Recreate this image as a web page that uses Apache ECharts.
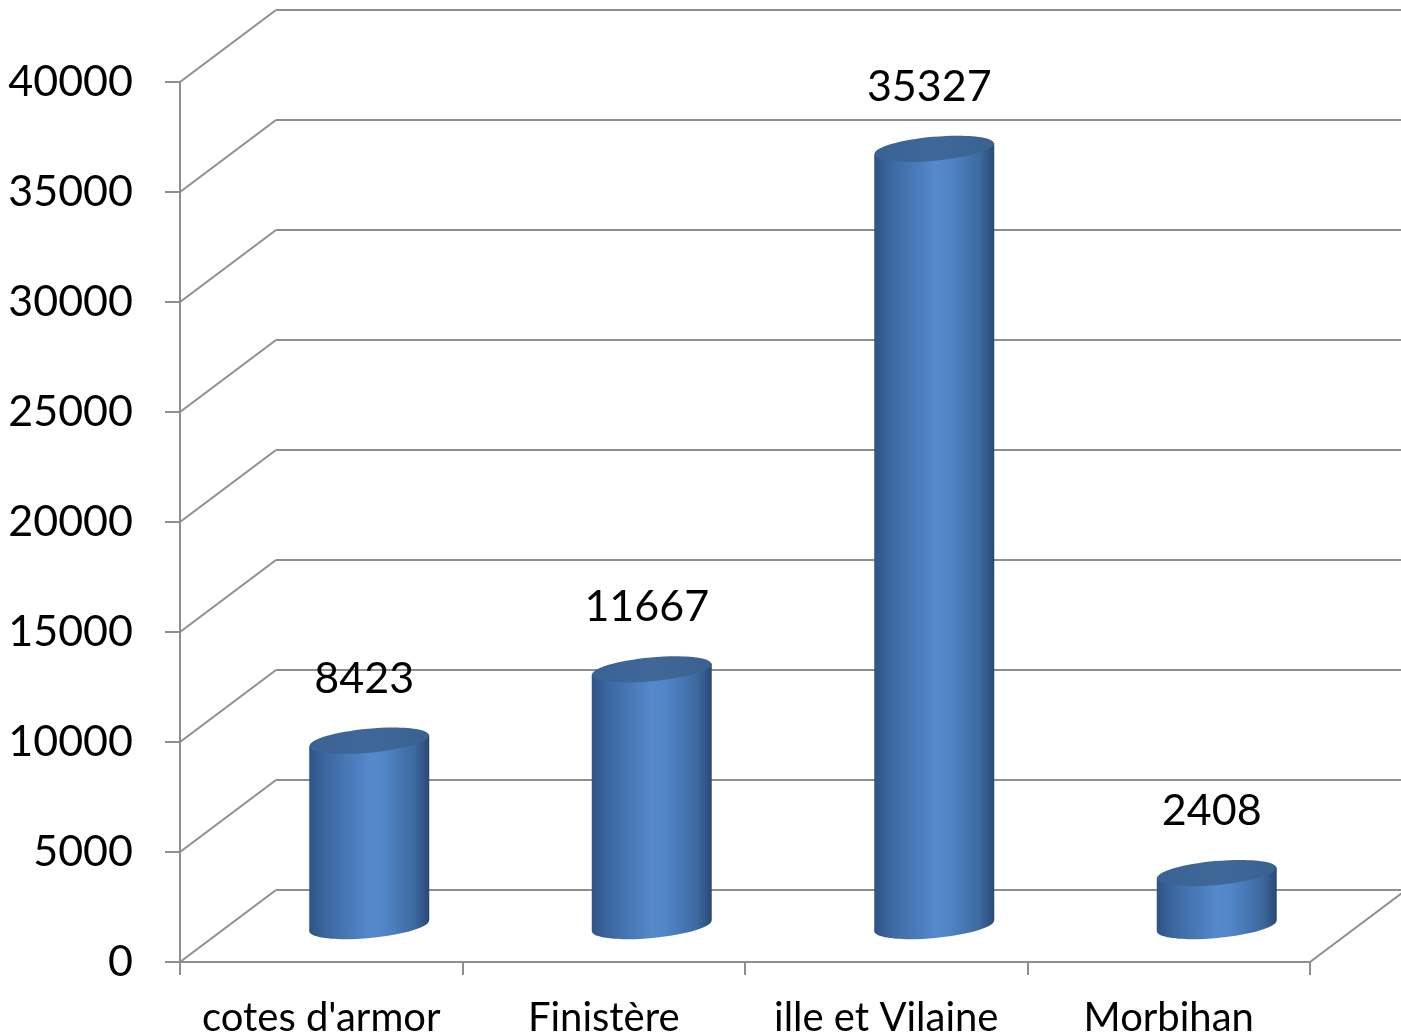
<!DOCTYPE html>
<html>
<head>
<meta charset="utf-8">
<script src="https://cdn.jsdelivr.net/npm/echarts@6/dist/echarts.min.js"></script>
<style>
  html, body { margin: 0; padding: 0; background: #fff; }
  #main { width: 1401px; height: 1034px; }
</style>
</head>
<body>
<div id="main"></div>
<script>
var categories = ['cotes d\'armor', 'Finistère', 'ille et Vilaine', 'Morbihan'];
var values = [8423, 11667, 35327, 2408];
var yTicks = [0, 5000, 10000, 15000, 20000, 25000, 30000, 35000, 40000];

var myChart = echarts.init(document.getElementById('main'));

// depth of the fake 3d box (back wall offset)
var DX = 96, DY = -72;
var lineColor = '#8e8e8e';
var fontName = 'Lato, "Open Sans", sans-serif';

var bodyFill = new echarts.graphic.LinearGradient(0, 0, 1, 0, [
    { offset: 0, color: '#2e5386' },
    { offset: 0.15, color: '#3d69a2' },
    { offset: 0.5, color: '#5489cb' },
    { offset: 0.62, color: '#5086c6' },
    { offset: 0.88, color: '#3c69a0' },
    { offset: 1, color: '#2a4874' }
]);
var topFill = new echarts.graphic.LinearGradient(0, 0, 1, 0, [
    { offset: 0, color: '#3a6295' },
    { offset: 0.5, color: '#3f6899' },
    { offset: 1, color: '#3a6190' }
]);

// diagonal lines of the side wall + floor
function renderWalls(params, api) {
    var cs = params.coordSys;
    var v = api.value(1);
    var y = api.coord([0, v])[1];
    var style = { stroke: lineColor, lineWidth: 2 };
    var children = [{
        type: 'line',
        shape: { x1: cs.x, y1: y, x2: cs.x + DX, y2: y + DY },
        style: style
    }];
    if (v === 0) {
        children.push({
            type: 'line',
            shape: { x1: cs.x + cs.width, y1: y, x2: cs.x + cs.width + DX, y2: y + DY },
            style: style
        });
    }
    return { type: 'group', children: children };
}

function renderCylinder(params, api) {
    var idx = api.value(0), val = api.value(1);
    var base = api.coord([idx, 0]);
    var top = api.coord([idx, val]);
    var cx = base[0] + DX / 2;
    var by = base[1] + DY / 2;
    var ty = top[1] + DY / 2;
    var rx = 60, ry = 12, tilt = 5.5;
    var rot = Math.atan2(tilt, rx);
    return {
        type: 'group',
        children: [
            {
                type: 'ellipse',
                shape: { cx: cx, cy: by, rx: rx, ry: ry },
                rotation: rot, originX: cx, originY: by,
                style: { fill: bodyFill }
            },
            {
                type: 'polygon',
                shape: { points: [[cx - rx, ty + tilt], [cx + rx, ty - tilt], [cx + rx, by - tilt], [cx - rx, by + tilt]] },
                style: { fill: bodyFill }
            },
            {
                type: 'ellipse',
                shape: { cx: cx, cy: ty, rx: rx, ry: ry },
                rotation: rot, originX: cx, originY: ty,
                style: { fill: topFill }
            },
            {
                type: 'text',
                x: cx - 5,
                y: ty - 62,
                style: {
                    text: String(val),
                    fill: '#000',
                    font: '43px ' + fontName,
                    align: 'center',
                    verticalAlign: 'middle'
                }
            }
        ]
    };
}

var option = {
    animation: false,
    backgroundColor: '#fff',
    grid: [
        { left: 180, top: 82, width: 1130, height: 880, outerBoundsMode: 'none' },
        { left: 180 + DX, top: 82 + DY, width: 1130, height: 880, outerBoundsMode: 'none' }
    ],
    xAxis: [
        {
            type: 'category',
            gridIndex: 0,
            data: categories,
            axisLine: { lineStyle: { color: lineColor, width: 2 } },
            axisTick: { show: true, interval: 0, length: 13, lineStyle: { color: lineColor, width: 2 } },
            axisLabel: { interval: 0, color: '#000', fontSize: 40, fontFamily: fontName, margin: 36 }
        },
        {
            type: 'category',
            gridIndex: 1,
            data: categories,
            show: false
        }
    ],
    yAxis: [
        {
            type: 'value',
            gridIndex: 0,
            min: 0, max: 40000, interval: 5000,
            axisLine: { show: true, lineStyle: { color: lineColor, width: 2 } },
            axisTick: { show: true, length: 15, lineStyle: { color: lineColor, width: 2 } },
            axisLabel: {
                color: '#000', fontSize: 43, fontFamily: fontName, margin: 47,
                formatter: function (v) { return String(v); }
            },
            splitLine: { show: false }
        },
        {
            type: 'value',
            gridIndex: 1,
            min: 0, max: 40000, interval: 5000,
            axisLine: { show: false },
            axisTick: { show: false },
            axisLabel: { show: false },
            splitLine: { show: true, lineStyle: { color: lineColor, width: 2 } }
        }
    ],
    series: [
        {
            type: 'custom',
            xAxisIndex: 0, yAxisIndex: 0,
            renderItem: renderWalls,
            data: yTicks.map(function (v) { return [0, v]; }),
            encode: { x: 0, y: 1 },
            z: 1
        },
        {
            type: 'custom',
            xAxisIndex: 0, yAxisIndex: 0,
            renderItem: renderCylinder,
            data: values.map(function (v, i) { return [i, v]; }),
            encode: { x: 0, y: 1 },
            z: 5
        }
    ]
};
myChart.setOption(option);
</script>
</body>
</html>
